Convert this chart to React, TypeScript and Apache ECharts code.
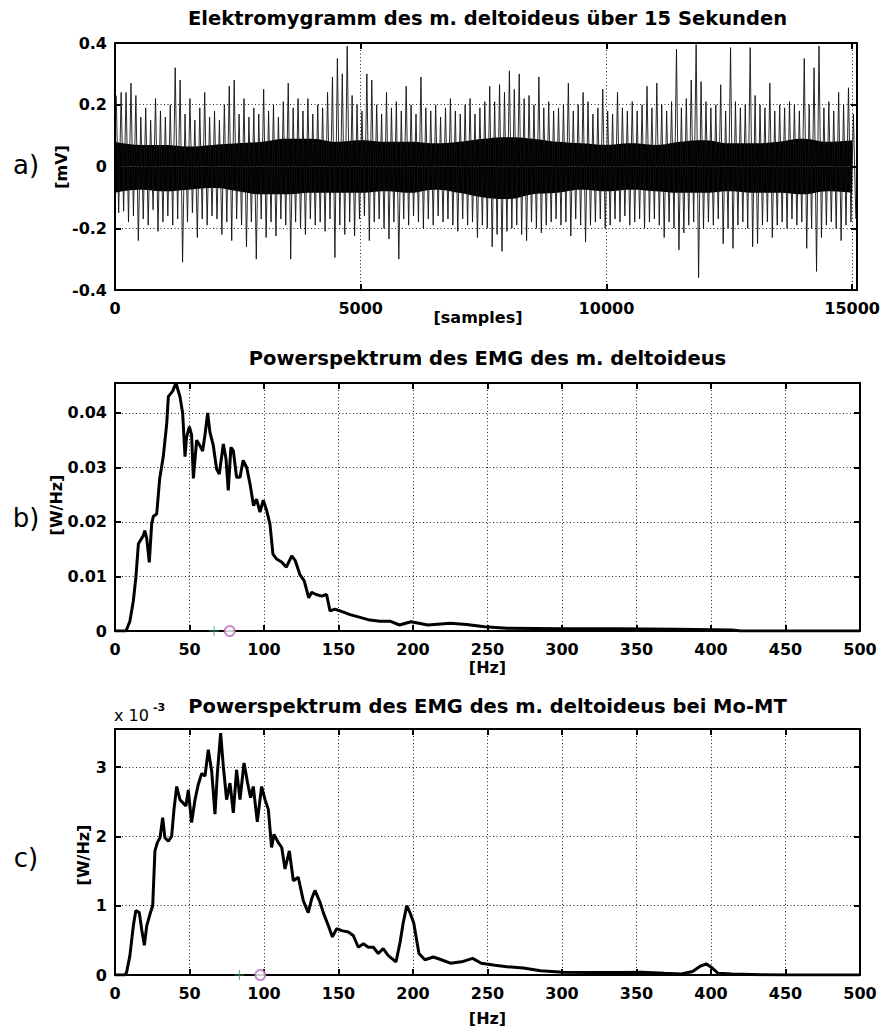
import React, { useEffect, useRef } from "react";
import * as echarts from "echarts";

// ---------- a) EMG, 15 s, per-100-sample extremes ----------
const emgBinSize = 100;
const emgHigh = [
  0.23, 0.24, 0.24, 0.27, 0.23, 0.16, 0.19, 0.15, 0.22, 0.18,
  0.16, 0.2, 0.32, 0.28, 0.17, 0.22, 0.15, 0.19, 0.24, 0.16,
  0.18, 0.15, 0.2, 0.26, 0.28, 0.17, 0.22, 0.16, 0.19, 0.17,
  0.25, 0.18, 0.2, 0.16, 0.21, 0.27, 0.19, 0.22, 0.18, 0.22,
  0.17, 0.2, 0.19, 0.24, 0.29, 0.35, 0.3, 0.39, 0.23, 0.2,
  0.18, 0.3, 0.28, 0.2, 0.17, 0.24, 0.19, 0.21, 0.18, 0.26,
  0.2, 0.17, 0.29, 0.19, 0.18, 0.2, 0.16, 0.19, 0.22, 0.18,
  0.17, 0.2, 0.22, 0.17, 0.19, 0.21, 0.26, 0.21, 0.265, 0.24,
  0.31, 0.25, 0.3, 0.22, 0.23, 0.2, 0.29, 0.19, 0.21, 0.18,
  0.19, 0.2, 0.27, 0.18, 0.2, 0.24, 0.21, 0.17, 0.19, 0.25,
  0.18, 0.17, 0.24, 0.19, 0.18, 0.21, 0.18, 0.2, 0.26, 0.19,
  0.27, 0.2, 0.18, 0.21, 0.38, 0.19, 0.22, 0.28, 0.395, 0.275,
  0.21, 0.19, 0.2, 0.265, 0.18, 0.385, 0.21, 0.19, 0.2, 0.385,
  0.23, 0.2, 0.19, 0.27, 0.18, 0.2, 0.19, 0.21, 0.2, 0.18,
  0.35, 0.2, 0.32, 0.39, 0.19, 0.21, 0.18, 0.24, 0.2, 0.255,
  0.17,
];
const emgLow = [
  -0.15, -0.145, -0.18, -0.16, -0.24, -0.17, -0.19, -0.14, -0.21, -0.18,
  -0.16, -0.19, -0.17, -0.31, -0.18, -0.15, -0.23, -0.17, -0.19, -0.16,
  -0.17, -0.22, -0.18, -0.24, -0.17, -0.19, -0.26, -0.18, -0.3, -0.17,
  -0.23, -0.18, -0.225, -0.17, -0.19, -0.3, -0.18, -0.2, -0.22, -0.17,
  -0.19, -0.18, -0.21, -0.17, -0.295, -0.19, -0.22, -0.18, -0.225, -0.17,
  -0.16, -0.24, -0.18, -0.17, -0.2, -0.235, -0.18, -0.3, -0.17, -0.19,
  -0.16, -0.18, -0.2, -0.17, -0.19, -0.16, -0.18, -0.17, -0.19, -0.21,
  -0.17, -0.19, -0.18, -0.23, -0.19, -0.2, -0.26, -0.22, -0.275, -0.21,
  -0.2, -0.19, -0.22, -0.24, -0.18, -0.2, -0.215, -0.19, -0.18, -0.17,
  -0.19, -0.18, -0.225, -0.17, -0.19, -0.245, -0.19, -0.18, -0.17, -0.2,
  -0.19, -0.17, -0.18, -0.16, -0.19, -0.18, -0.17, -0.2, -0.18, -0.17,
  -0.19, -0.23, -0.18, -0.2, -0.27, -0.215, -0.19, -0.18, -0.36, -0.2,
  -0.18, -0.19, -0.17, -0.25, -0.2, -0.265, -0.19, -0.18, -0.2, -0.26,
  -0.25, -0.19, -0.18, -0.23, -0.19, -0.18, -0.2, -0.17, -0.19, -0.18,
  -0.265, -0.2, -0.34, -0.23, -0.19, -0.18, -0.2, -0.24, -0.19, -0.18,
  -0.17,
];
// solid core band of the signal, per 500 samples
const emgCoreStep = 500;
const emgCoreUpper = [
  0.08, 0.07, 0.07, 0.065, 0.07, 0.075, 0.08, 0.09, 0.09, 0.08,
  0.085, 0.08, 0.08, 0.075, 0.08, 0.09, 0.095, 0.09, 0.08, 0.075,
  0.07, 0.075, 0.07, 0.08, 0.085, 0.075, 0.075, 0.08, 0.09, 0.08, 0.085,
];
const emgCoreLower = [
  -0.085, -0.075, -0.08, -0.075, -0.07, -0.08, -0.09, -0.09, -0.085, -0.085,
  -0.085, -0.08, -0.085, -0.075, -0.085, -0.1, -0.105, -0.09, -0.085, -0.075,
  -0.08, -0.075, -0.08, -0.085, -0.085, -0.08, -0.085, -0.085, -0.09, -0.08, -0.085,
];

// ---------- b) power spectrum ----------
const specBFreq = [
  0, 7.4, 10, 12.3, 14, 15.7, 19, 20, 21.3, 23, 24.6, 25.7, 28, 30, 32.4, 34.7, 35.8, 38.7, 40.9, 43.6,
  45.4, 47, 48, 49.9, 51.4, 52.6, 54.8, 57, 58.8, 60.4, 62.2, 63.7, 66, 68.2, 70, 72.7, 74.5, 76, 77.8, 79.4,
  81.6, 83.9, 86, 88.4, 90.6, 93, 95, 97.3, 99.5, 101.8, 104, 106, 108.5, 112, 115, 118.6, 121, 124, 127, 130,
  132, 135, 138.7, 142, 144.3, 147.6, 151, 157.8, 164.5, 171, 177.8, 184.5, 191, 198.6, 210, 225, 236, 248, 263, 300,
  338, 376, 414, 420, 500,
];
const specBPower = [
  0, 0, 0.0018, 0.0055, 0.0098, 0.016, 0.0175, 0.0184, 0.017, 0.0126, 0.0196, 0.021, 0.0215, 0.028, 0.032, 0.038, 0.043, 0.044, 0.0455, 0.043,
  0.04, 0.032, 0.0355, 0.0375, 0.036, 0.028, 0.035, 0.034, 0.033, 0.036, 0.04, 0.0365, 0.034, 0.0297, 0.0288, 0.0343, 0.0316, 0.0258, 0.0337, 0.0331,
  0.0282, 0.0282, 0.0313, 0.03, 0.027, 0.023, 0.0242, 0.0218, 0.024, 0.0221, 0.0196, 0.0141, 0.0132, 0.0126, 0.0117, 0.0138, 0.0129, 0.0104, 0.0092, 0.0061,
  0.0071, 0.0067, 0.0064, 0.0067, 0.0037, 0.004, 0.0037, 0.003, 0.0025, 0.002, 0.0018, 0.0018, 0.0011, 0.0017, 0.0011, 0.0014, 0.0012, 0.0008, 0.0005, 0.0004,
  0.0004, 0.0003, 0.0002, 0, 0,
];
const markBPlus = [66.5, 0];
const markBCircle = [77, 0];

// ---------- c) power spectrum at Mo-MT (values in 10^-3 W/Hz) ----------
const specCFreq = [
  0, 6.7, 7.8, 10, 12.3, 14, 16.3, 17.9, 19.7, 21.3, 23.5, 25.3, 26.8, 28.4, 30.2, 32, 33.5, 35.8, 38, 39.6,
  41.4, 43.6, 45.8, 47.6, 49.2, 51.4, 53.7, 55.9, 58.2, 60.4, 62.6, 64.9, 67.1, 68.7, 70.9, 72.7, 74.9, 77.2, 79.4, 81.6,
  83.9, 86.6, 89, 91, 92.8, 95.5, 98.4, 100.7, 102.9, 105.1, 106.7, 109.6, 111.9, 114.1, 117, 119.7, 123, 126.4, 129.7, 132,
  134.2, 137.6, 139.8, 143.2, 145.9, 148.8, 152.1, 156.6, 159.9, 163.3, 166.7, 170, 173.4, 176.7, 180, 183.4, 185.7, 188.6, 191.3, 193.5,
  195.8, 198, 200.5, 204, 208, 213.7, 219, 225, 232.6, 240, 245.8, 255, 263, 274, 285.6, 300.7, 319.6, 338.5, 353.6, 368.8,
  380, 387.6, 393, 397, 400.9, 404.7, 414, 433, 452, 500,
];
const specCPower = [
  0, 0, 0.04, 0.28, 0.71, 0.93, 0.9, 0.66, 0.43, 0.71, 0.88, 1.0, 1.79, 1.91, 1.98, 2.27, 1.98, 1.93, 2.0, 2.39,
  2.72, 2.53, 2.48, 2.44, 2.67, 2.2, 2.53, 2.75, 2.91, 2.87, 3.25, 2.94, 2.32, 2.91, 3.49, 3.01, 2.53, 2.77, 2.34, 2.96,
  2.53, 3.06, 2.77, 2.56, 2.72, 2.21, 2.72, 2.53, 2.39, 1.84, 2.03, 1.91, 1.84, 1.53, 1.79, 1.36, 1.41, 1.07, 0.9, 1.1,
  1.22, 1.05, 0.9, 0.71, 0.55, 0.67, 0.64, 0.62, 0.57, 0.4, 0.45, 0.4, 0.4, 0.31, 0.38, 0.28, 0.24, 0.19, 0.47, 0.76,
  1.0, 0.9, 0.75, 0.31, 0.22, 0.26, 0.22, 0.17, 0.19, 0.24, 0.17, 0.14, 0.12, 0.1, 0.06, 0.04, 0.035, 0.035, 0.04, 0.025,
  0.015, 0.05, 0.13, 0.16, 0.1, 0.025, 0.015, 0.005, 0, 0,
];
const markCPlus = [83.5, 0];
const markCCircle = [97.5, 0];

const titles = [
  "Elektromygramm des m. deltoideus über 15 Sekunden",
  "Powerspektrum des EMG des m. deltoideus",
  "Powerspektrum des EMG des m. deltoideus bei Mo-MT",
];

const FONT = '"DejaVu Sans", "Liberation Sans", sans-serif';
const PLOT_LEFT = 115;
const PLOT_W = 745;
const CX = PLOT_LEFT + PLOT_W / 2;

function zip(xs: number[], ys: number[]) {
  const n = Math.min(xs.length, ys.length);
  const out: number[][] = [];
  for (let i = 0; i < n; i++) out.push([xs[i], ys[i]]);
  return out;
}

function fmt(v: number) {
  return String(Math.round(v * 10000) / 10000);
}

function axisPair(
  dim: "x" | "y",
  gridIndex: number,
  min: number,
  max: number,
  interval: number,
  showMaxLabel: boolean
) {
  const common = {
    type: "value",
    gridIndex,
    min,
    max,
    interval,
    axisLine: { show: true, onZero: false, lineStyle: { color: "#000", width: 2 } },
    axisTick: { show: true, inside: true, length: 6, lineStyle: { color: "#000", width: 2 } },
  };
  const main = {
    ...common,
    position: dim === "x" ? "bottom" : "left",
    axisLabel: {
      show: true,
      color: "#000",
      fontFamily: FONT,
      fontWeight: "bold",
      fontSize: 16,
      margin: dim === "x" ? 10 : 8,
      showMaxLabel,
      showMinLabel: true,
      formatter: fmt,
    },
    splitLine: { show: true, lineStyle: { color: "#222", width: 1, type: [1, 2.5] } },
  };
  const mirror = {
    ...common,
    position: dim === "x" ? "top" : "right",
    axisLabel: { show: false },
    splitLine: { show: false },
  };
  return [main, mirror];
}

export default function App() {
  const ref = useRef<HTMLDivElement>(null);
  useEffect(() => {
    if (!ref.current) return;
    const chart = echarts.init(ref.current, null, { renderer: "svg" });

    const emgZig: number[][] = [];
    const n = Math.min(emgHigh.length, emgLow.length);
    for (let i = 0; i < n; i++) {
      emgZig.push([i * emgBinSize + emgBinSize * 0.25, emgHigh[i]]);
      emgZig.push([i * emgBinSize + emgBinSize * 0.75, emgLow[i]]);
    }
    const coreUp = emgCoreUpper.map((v, i) => [i * emgCoreStep, v]);
    const coreLo = emgCoreLower.map((v, i) => [i * emgCoreStep, v]);

    const grids = [
      { left: PLOT_LEFT, top: 43, width: PLOT_W, height: 247 },
      { left: PLOT_LEFT, top: 383, width: PLOT_W, height: 248 },
      { left: PLOT_LEFT, top: 729, width: PLOT_W, height: 246 },
    ];

    const xAxes = [
      ...axisPair("x", 0, 0, 15100, 5000, false),
      ...axisPair("x", 1, 0, 500, 50, true),
      ...axisPair("x", 2, 0, 500, 50, true),
    ];
    const yAxes = [
      ...axisPair("y", 0, -0.4, 0.4, 0.2, true),
      ...axisPair("y", 1, 0, 0.0455, 0.01, false),
      ...axisPair("y", 2, 0, 3.55, 1, false),
    ];

    const plusPath = "path://M-0.1,-1H0.1V1H-0.1Z M-1,-0.1H1V0.1H-1Z";

    const text = (t: string, x: number, y: number, font: string, extra: any = {}) => ({
      type: "text",
      x,
      y,
      rotation: extra.rotation || 0,
      silent: true,
      style: {
        text: t,
        x: 0,
        y: 0,
        fill: "#000",
        font,
        textAlign: extra.align || "center",
        textVerticalAlign: extra.valign || "middle",
      },
    });

    const titleFont = `bold 19.5px ${FONT}`;
    const labelFont = `bold 16px ${FONT}`;
    const letterFont = `26px ${FONT}`;

    chart.setOption({
      animation: false,
      backgroundColor: "#fff",
      grid: grids,
      xAxis: xAxes,
      yAxis: yAxes,
      series: [
        {
          type: "line",
          xAxisIndex: 0,
          yAxisIndex: 0,
          data: coreUp,
          showSymbol: false,
          smooth: true,
          lineStyle: { width: 0, color: "#000" },
          areaStyle: { color: "#000", opacity: 1 },
        },
        {
          type: "line",
          xAxisIndex: 0,
          yAxisIndex: 0,
          data: coreLo,
          showSymbol: false,
          smooth: true,
          lineStyle: { width: 0, color: "#000" },
          areaStyle: { color: "#000", opacity: 1 },
        },
        {
          type: "line",
          xAxisIndex: 0,
          yAxisIndex: 0,
          data: emgZig,
          showSymbol: false,
          lineStyle: { width: 0.9, color: "#111" },
        },
        {
          type: "line",
          xAxisIndex: 2,
          yAxisIndex: 2,
          data: zip(specBFreq, specBPower),
          showSymbol: false,
          lineStyle: { width: 3, color: "#000" },
        },
        {
          type: "line",
          xAxisIndex: 4,
          yAxisIndex: 4,
          data: zip(specCFreq, specCPower),
          showSymbol: false,
          lineStyle: { width: 3, color: "#000" },
        },
        {
          type: "scatter",
          xAxisIndex: 2,
          yAxisIndex: 2,
          clip: false,
          z: 5,
          data: [markBPlus],
          symbol: plusPath,
          symbolSize: 10,
          itemStyle: { color: "#3a9a6a" },
        },
        {
          type: "scatter",
          xAxisIndex: 2,
          yAxisIndex: 2,
          clip: false,
          z: 5,
          data: [markBCircle],
          symbol: "emptyCircle",
          symbolSize: 10,
          itemStyle: { color: "#c070c0", borderColor: "#c070c0", borderWidth: 1 },
        },
        {
          type: "scatter",
          xAxisIndex: 4,
          yAxisIndex: 4,
          clip: false,
          z: 5,
          data: [markCPlus],
          symbol: plusPath,
          symbolSize: 10,
          itemStyle: { color: "#3a9a6a" },
        },
        {
          type: "scatter",
          xAxisIndex: 4,
          yAxisIndex: 4,
          clip: false,
          z: 5,
          data: [markCCircle],
          symbol: "emptyCircle",
          symbolSize: 10,
          itemStyle: { color: "#c070c0", borderColor: "#c070c0", borderWidth: 1 },
        },
      ],
      graphic: [
        text(titles[0], CX, 18, titleFont),
        text(titles[1], CX, 358, titleFont),
        text(titles[2], CX, 706, titleFont),
        text("a)", 26, 165, letterFont),
        text("b)", 26, 518, letterFont),
        text("c)", 26, 858, letterFont),
        text("[mV]", 61, 167, labelFont, { rotation: Math.PI / 2 }),
        text("[W/Hz]", 56, 505, labelFont, { rotation: Math.PI / 2 }),
        text("[W/Hz]", 83, 855, labelFont, { rotation: Math.PI / 2 }),
        text("[samples]", 478, 317, labelFont),
        text("[Hz]", CX, 667, labelFont),
        text("[Hz]", CX, 1018, labelFont),
        text("x 10", 114, 723, `16px ${FONT}`, { align: "left", valign: "bottom" }),
        text("-3", 153, 713, `bold 11px ${FONT}`, { align: "left", valign: "bottom" }),
      ],
    });
    return () => chart.dispose();
  }, []);
  return (
    <div
      ref={ref}
      style={{ position: "absolute", left: 0, top: 0, width: 883, height: 1030, background: "#fff" }}
    />
  );
}
